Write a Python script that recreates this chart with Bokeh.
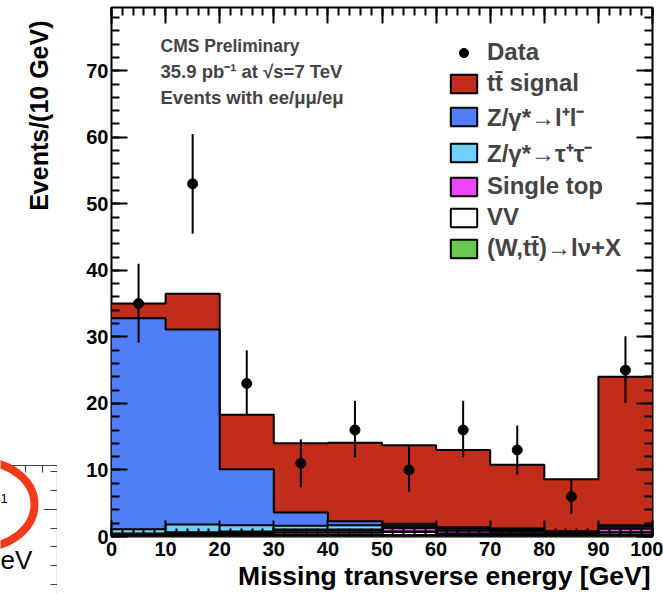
import numpy as np
from bokeh.plotting import figure
from bokeh.layouts import row
from bokeh.core.properties import value
from bokeh.models import (Range1d, SingleIntervalTicker, LinearAxis, Legend,
                          LegendItem, Label, Title)
from bokeh.embed import file_html
from bokeh.resources import INLINE

# ---------------- data ----------------
bin_edges = [0, 10, 20, 30, 40, 50, 60, 70, 80, 90, 100]
bin_centers = [5, 15, 25, 35, 45, 55, 65, 75, 85, 95]

data_counts = [35, 53, 23, 11, 16, 10, 16, 13, 6, 25]
data_low = [29.1, 45.5, 18.3, 7.4, 11.9, 6.7, 11.9, 9.3, 3.4, 20.1]
data_high = [41.0, 60.5, 28.0, 14.6, 20.4, 13.6, 20.4, 16.7, 8.6, 30.1]

wlnu = [0.1, 0.1, 0.1, 0.2, 0.2, 0.2, 0.1, 0.1, 0.1, 0.2]
vv = [0.2, 0.3, 0.3, 0.4, 0.4, 0.5, 0.3, 0.3, 0.2, 0.4]
single_top = [0.1, 0.2, 0.3, 0.4, 0.4, 0.6, 0.5, 0.4, 0.3, 0.6]
z_tautau = [0.7, 1.2, 1.0, 0.6, 0.7, 0.3, 0.3, 0.2, 0.1, 0.3]
z_ll = [31.7, 29.3, 8.4, 2.0, 0.6, 0.3, 0.2, 0.2, 0.1, 0.2]
ttbar = [2.2, 5.4, 8.2, 10.4, 11.8, 11.8, 11.6, 9.6, 7.8, 22.3]

layer_values = [wlnu, vv, single_top, z_tautau, z_ll, ttbar]
layer_names = ["(W,t\u0074\u0304)\u2192l\u03bd+X", "VV", "Single top",
               "Z/\u03b3*\u2192\u03c4\u207a\u03c4\u207b",
               "Z/\u03b3*\u2192l\u207al\u207b", "t\u0074\u0304 signal"]
layer_colors = ["#69c850", "#ffffff", "#eb46f5", "#6ed2fa", "#4f7ef6", "#c22c1a"]
outline_widths = [2.5, 2.5, 2.5, 2, 2, 2]

x_title = "Missing transverse energy [GeV]"
y_title = "Events/(10 GeV)"

FONT = "Liberation Sans"
PAGE_H = 594
SIDE_W = 57

# ---------------- main figure ----------------
FT, FW, FH = 7, 541, 529
p = figure(frame_width=FW, frame_height=FH,
           x_range=Range1d(0, 100), y_range=Range1d(0, 79.5),
           output_backend="svg", toolbar_location=None,
           min_border_left=111 - SIDE_W, min_border_right=11, min_border_top=FT,
           min_border_bottom=PAGE_H - FT - FH, x_axis_type=None, y_axis_type=None)
p.xgrid.visible = False
p.ygrid.visible = False
p.outline_line_color = "black"
p.outline_line_width = 2
p.background_fill_color = "white"
p.border_fill_color = "white"

xticker = SingleIntervalTicker(interval=10, num_minor_ticks=5)
yticker = SingleIntervalTicker(interval=10, num_minor_ticks=5)


def style_axis(ax, show_labels=True):
    ax.major_tick_in = 16
    ax.major_tick_out = 0
    ax.minor_tick_in = 8
    ax.minor_tick_out = 0
    ax.major_tick_line_width = 2
    ax.minor_tick_line_width = 2
    ax.axis_line_color = None
    ax.major_tick_line_color = "black"
    ax.minor_tick_line_color = "black"
    if show_labels:
        ax.major_label_text_font = FONT
        ax.major_label_text_font_style = "bold"
        ax.major_label_text_font_size = "20px"
        ax.major_label_text_color = "black"
    else:
        ax.major_label_text_font_size = "1px"
        ax.major_label_text_color = None
        ax.major_label_standoff = 0


xaxis = LinearAxis(ticker=xticker)
style_axis(xaxis)
xaxis.major_label_standoff = 5
p.add_layout(xaxis, "below")

yaxis = LinearAxis(ticker=yticker)
style_axis(yaxis)
yaxis.major_label_standoff = 3
p.add_layout(yaxis, "left")

xtop = LinearAxis(ticker=xticker)
style_axis(xtop, show_labels=False)
p.add_layout(xtop, "above")
yright = LinearAxis(ticker=yticker)
style_axis(yright, show_labels=False)
p.add_layout(yright, "right")

# x-axis title, right aligned at the end of the axis
p.add_layout(Title(text=x_title, align="right", offset=2, standoff=0,
                   text_font=FONT, text_font_style="bold",
                   text_font_size="26.5px", text_color="black"), "below")

# ---------------- stacked histogram ----------------
cum = np.zeros(len(bin_centers))
tops = []
for vals, col in zip(layer_values, layer_colors):
    lower = cum.copy()
    cum = cum + np.array(vals)
    upper = cum.copy()
    p.varea_step(x=bin_edges, y1=list(lower) + [lower[-1]],
                 y2=list(upper) + [upper[-1]], step_mode="after",
                 fill_color=col)
    tops.append(upper)

for upper, lw in zip(tops, outline_widths):
    p.step(x=bin_edges, y=list(upper) + [upper[-1]], mode="after",
           line_color="black", line_width=lw)

# ---------------- data points ----------------
p.segment(x0=bin_centers, y0=data_low, x1=bin_centers, y1=data_high,
          line_color="black", line_width=2)
data_r = p.scatter(x=bin_centers, y=data_counts, size=10, color="black")

# ---------------- legend ----------------
items = [LegendItem(label="Data", renderers=[data_r])]
for name, col, vals in zip(reversed(layer_names), reversed(layer_colors),
                           reversed(layer_values)):
    proxy = p.quad(left=bin_edges[:1], right=bin_edges[1:2], bottom=[0],
                   top=vals[:1], fill_color=col, line_color="black",
                   line_width=2, visible=False)
    items.append(LegendItem(label=name, renderers=[proxy]))

legend = Legend(items=items, location=(336, 274), padding=0, spacing=3,
                glyph_width=33, glyph_height=23, label_height=23,
                label_standoff=7, label_text_font=FONT,
                label_text_font_style="bold", label_text_font_size="24px",
                background_fill_alpha=0, border_line_alpha=0,
                inactive_fill_alpha=0)
p.add_layout(legend)

# ---------------- text inside the frame ----------------
XS = FW / 100.0
YS = FH / 79.5


def dx(sx):
    return (sx - 111) / XS


def dy(sy):
    return (FT + FH - sy) / YS


for txt, sy, fs in [("CMS Preliminary", 45, "17.5px"),
                    ("35.9 pb\u207b\u00b9 at  \u221as=7 TeV", 71, "18.5px"),
                    ("Events with ee/\u03bc\u03bc/e\u03bc", 97, "18.5px")]:
    p.add_layout(Label(x=dx(160), y=dy(sy), text=txt, text_font=FONT,
                       text_font_style="bold", text_font_size=fs,
                       text_baseline="middle", text_align="left"))

# ---------------- left strip: y title + fragment of neighbouring chart ----------------
side = figure(frame_width=SIDE_W, frame_height=PAGE_H,
              x_range=Range1d(0, SIDE_W), y_range=Range1d(0, PAGE_H),
              output_backend="svg", toolbar_location=None, min_border=0,
              min_border_left=0, min_border_right=0, min_border_top=0,
              min_border_bottom=0, x_axis_type=None, y_axis_type=None,
              outline_line_color=None)
side.xgrid.visible = False
side.ygrid.visible = False
side.background_fill_color = "white"
side.border_fill_color = "white"


def fy(sy):
    return PAGE_H - sy


side.text(x=[38], y=[fy(13)], text=[y_title], angle=np.pi / 2,
          text_font=value(FONT), text_font_style="bold",
          text_font_size="25px", text_align="right",
          text_baseline="middle", text_color="black")

side.line(x=[0, 57, 57], y=[fy(458), fy(458), fy(PAGE_H)],
          line_color="#444444", line_width=1.2)
tick_y = [fy(v) for v in [464, 483, 502, 521, 539, 558, 577]]
tick_len = [7, 7, 14, 7, 7, 7, 7]
side.segment(x0=[57 - l for l in tick_len], y0=tick_y, x1=[57] * len(tick_y),
             y1=tick_y, line_color="#444444", line_width=1.2)
tick_x = [9, 25, 42]
side.segment(x0=tick_x, y0=[fy(458)] * 3, x1=tick_x, y1=[fy(465)] * 3,
             line_color="#444444", line_width=1.2)
side.ellipse(x=[-20], y=[fy(497)], width=[108], height=[86], fill_alpha=0,
             line_color="#f23a18", line_width=8)
side.text(x=[0], y=[fy(552)], text=["eV"], text_font=value(FONT),
          text_font_size="26px", text_baseline="alphabetic",
          text_align="left", text_color="black")
side.text(x=[0], y=[fy(491)], text=["1"], text_font=value(FONT),
          text_font_size="13px", text_baseline="alphabetic",
          text_align="left", text_color="black")

layout = row(side, p)

open("out.html", "w").write(file_html(layout, INLINE))
